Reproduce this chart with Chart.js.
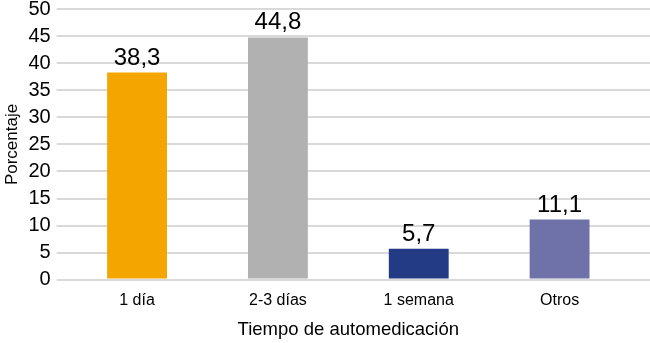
<!DOCTYPE html>
<html>
<head>
<meta charset="utf-8">
<script src="https://cdn.jsdelivr.net/npm/chart.js"></script>
<style>
  html, body { margin: 0; padding: 0; background: #fff; }
  #wrap { width: 650px; height: 343px; }
</style>
</head>
<body>
<div id="wrap"><canvas id="chart"></canvas></div>
<script>
const categories = ['1 día', '2-3 días', '1 semana', 'Otros'];
const porcentaje = [38.3, 44.8, 5.7, 11.1];
const barColors = ['#F5A500', '#B1B1B1', '#233A85', '#6E72A9'];

const font = "'Liberation Sans', Arial, Helvetica, sans-serif";

// value labels above each bar, comma as decimal mark
const valueLabels = {
  id: 'valueLabels',
  afterDatasetsDraw(chart) {
    const ctx = chart.ctx;
    const meta = chart.getDatasetMeta(0);
    ctx.save();
    ctx.font = '24px ' + font;
    ctx.fillStyle = '#000';
    ctx.textAlign = 'center';
    ctx.textBaseline = 'alphabetic';
    meta.data.forEach((bar, i) => {
      const txt = porcentaje[i].toFixed(1).replace('.', ',');
      ctx.fillText(txt, bar.x, bar.y - 8);
    });
    ctx.restore();
  }
};

new Chart('chart', {
  type: 'bar',
  data: {
    labels: categories,
    datasets: [{
      data: porcentaje,
      backgroundColor: barColors,
      barPercentage: 1,
      categoryPercentage: 0.425
    }]
  },
  options: {
    responsive: true,
    maintainAspectRatio: false,
    animation: false,
    layout: { padding: { top: 0, right: 0, bottom: 2, left: 2 } },
    plugins: {
      legend: { display: false },
      tooltip: { enabled: false }
    },
    scales: {
      x: {
        grid: { display: false },
        border: { display: false },
        ticks: { color: '#000', font: { family: font, size: 16 }, padding: 3 },
        title: {
          display: true,
          text: 'Tiempo de automedicación',
          color: '#000',
          font: { family: font, size: 18.5 },
          padding: { top: 6, bottom: 0 }
        }
      },
      y: {
        min: 0,
        max: 50,
        // small lineHeight only trims the top padding, labels stay centred
        ticks: { stepSize: 5, autoSkip: false, color: '#000', font: { family: font, size: 20, lineHeight: 0.33 }, padding: 6 },
        grid: { color: '#D9D9D9', lineWidth: 2, tickLength: 10, tickColor: '#D9D9D9' },
        border: { display: false },
        title: {
          display: true,
          text: 'Porcentaje',
          color: '#000',
          font: { family: font, size: 17 },
          padding: { top: 0, bottom: 0 }
        }
      },
      y2: {
        position: 'right',
        min: 0,
        max: 50,
        ticks: { stepSize: 5, autoSkip: false, display: false },
        grid: { drawOnChartArea: false, color: '#D9D9D9', lineWidth: 2, tickLength: 20, tickColor: '#D9D9D9' },
        border: { display: false }
      }
    }
  },
  plugins: [valueLabels]
});
</script>
</body>
</html>
